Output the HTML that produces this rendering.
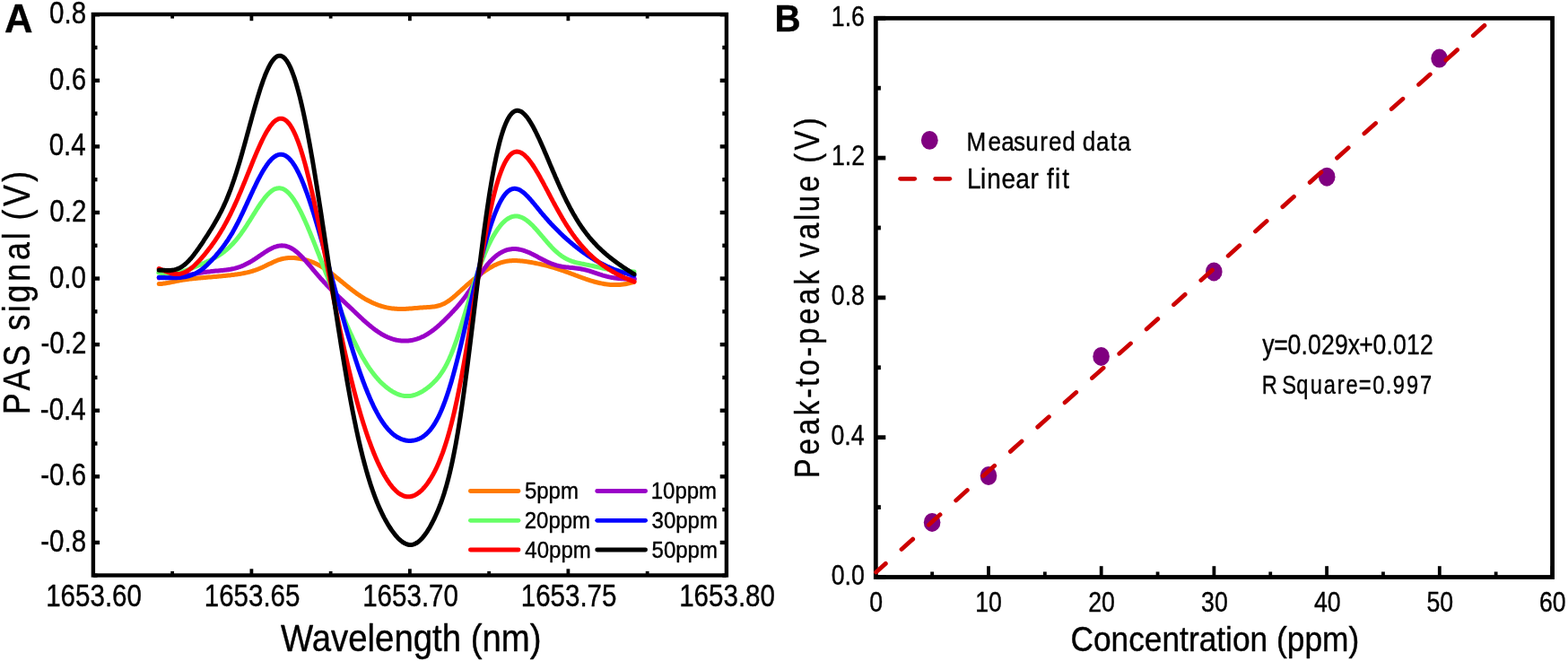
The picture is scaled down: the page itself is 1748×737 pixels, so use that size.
<!DOCTYPE html>
<html lang="en"><head><meta charset="utf-8"><title>PAS signal and linear fit</title>
<style>html,body{margin:0;padding:0;background:#fff;}body{width:1748px;height:737px;overflow:hidden;}svg{display:block;}text{font-family:"Liberation Sans",Arial,Helvetica,sans-serif;white-space:pre;}</style>
</head><body>
<svg role="img" aria-label="Figure: (A) PAS signal versus wavelength for 5 to 50 ppm; (B) peak-to-peak value versus concentration with linear fit" width="1748" height="737" viewBox="0 0 1748 737">
<rect x="0" y="0" width="1748" height="737" fill="#fff"/>
<g id="panelA">
<g fill="none" stroke-linecap="round" stroke-linejoin="round" stroke-width="5.0">
<path d="M177.2,316.6 L178.2,316.5 L179.2,316.4 L180.2,316.4 L181.2,316.3 L182.2,316.1 L183.2,316.0 L184.2,315.9 L185.2,315.7 L186.2,315.6 L187.2,315.4 L188.2,315.2 L189.2,315.0 L190.2,314.8 L191.2,314.6 L192.2,314.4 L193.2,314.2 L194.2,314.0 L195.2,313.8 L196.2,313.6 L197.2,313.4 L198.2,313.2 L199.2,313.0 L200.2,312.8 L201.2,312.6 L202.2,312.4 L203.2,312.3 L204.2,312.1 L205.2,312.0 L206.2,311.8 L207.2,311.7 L208.2,311.5 L209.2,311.4 L210.2,311.3 L211.2,311.1 L212.2,311.0 L213.2,310.9 L214.2,310.8 L215.2,310.7 L216.2,310.6 L217.2,310.5 L218.2,310.4 L219.2,310.3 L220.2,310.2 L221.2,310.1 L222.2,310.0 L223.2,309.9 L224.2,309.8 L225.2,309.8 L226.2,309.7 L227.2,309.6 L228.2,309.5 L229.2,309.4 L230.2,309.3 L231.2,309.2 L232.2,309.1 L233.2,309.1 L234.2,309.0 L235.2,308.9 L236.2,308.8 L237.2,308.7 L238.2,308.6 L239.2,308.5 L240.2,308.4 L241.2,308.4 L242.2,308.3 L243.2,308.2 L244.2,308.1 L245.2,308.0 L246.2,307.9 L247.2,307.8 L248.2,307.7 L249.2,307.6 L250.2,307.5 L251.2,307.4 L252.2,307.3 L253.2,307.2 L254.2,307.1 L255.2,307.0 L256.2,306.9 L257.2,306.8 L258.2,306.6 L259.2,306.5 L260.2,306.4 L261.2,306.3 L262.2,306.1 L263.2,306.0 L264.2,305.9 L265.2,305.7 L266.2,305.6 L267.2,305.4 L268.2,305.3 L269.2,305.1 L270.2,304.9 L271.2,304.7 L272.2,304.5 L273.2,304.3 L274.2,304.1 L275.2,303.9 L276.2,303.7 L277.2,303.4 L278.2,303.2 L279.2,302.9 L280.2,302.6 L281.2,302.3 L282.2,302.0 L283.2,301.7 L284.2,301.4 L285.2,301.0 L286.2,300.6 L287.2,300.3 L288.2,299.9 L289.2,299.5 L290.2,299.1 L291.2,298.6 L292.2,298.2 L293.2,297.7 L294.2,297.2 L295.2,296.8 L296.2,296.3 L297.2,295.8 L298.2,295.3 L299.2,294.8 L300.2,294.3 L301.2,293.9 L302.2,293.4 L303.2,292.9 L304.2,292.4 L305.2,292.0 L306.2,291.5 L307.2,291.1 L308.2,290.7 L309.2,290.3 L310.2,289.9 L311.2,289.6 L312.2,289.3 L313.2,289.0 L314.2,288.7 L315.2,288.5 L316.2,288.3 L317.2,288.1 L318.2,287.9 L319.2,287.8 L320.2,287.7 L321.2,287.6 L322.2,287.5 L323.2,287.5 L324.2,287.4 L325.2,287.5 L326.2,287.5 L327.2,287.5 L328.2,287.6 L329.2,287.7 L330.2,287.8 L331.2,287.9 L332.2,288.0 L333.2,288.2 L334.2,288.3 L335.2,288.5 L336.2,288.7 L337.2,288.9 L338.2,289.1 L339.2,289.4 L340.2,289.6 L341.2,289.9 L342.2,290.2 L343.2,290.5 L344.2,290.8 L345.2,291.1 L346.2,291.5 L347.2,291.8 L348.2,292.2 L349.2,292.6 L350.2,293.1 L351.2,293.5 L352.2,294.0 L353.2,294.5 L354.2,295.0 L355.2,295.5 L356.2,296.0 L357.2,296.6 L358.2,297.2 L359.2,297.8 L360.2,298.4 L361.2,299.0 L362.2,299.7 L363.2,300.4 L364.2,301.0 L365.2,301.7 L366.2,302.5 L367.2,303.2 L368.2,303.9 L369.2,304.7 L370.2,305.4 L371.2,306.2 L372.2,307.0 L373.2,307.8 L374.2,308.6 L375.2,309.4 L376.2,310.2 L377.2,311.0 L378.2,311.8 L379.2,312.7 L380.2,313.5 L381.2,314.3 L382.2,315.1 L383.2,315.9 L384.2,316.8 L385.2,317.6 L386.2,318.4 L387.2,319.2 L388.2,320.0 L389.2,320.8 L390.2,321.6 L391.2,322.4 L392.2,323.1 L393.2,323.9 L394.2,324.6 L395.2,325.4 L396.2,326.1 L397.2,326.9 L398.2,327.6 L399.2,328.3 L400.2,328.9 L401.2,329.6 L402.2,330.3 L403.2,330.9 L404.2,331.6 L405.2,332.2 L406.2,332.8 L407.2,333.4 L408.2,333.9 L409.2,334.5 L410.2,335.1 L411.2,335.6 L412.2,336.1 L413.2,336.6 L414.2,337.1 L415.2,337.5 L416.2,338.0 L417.2,338.4 L418.2,338.8 L419.2,339.2 L420.2,339.6 L421.2,340.0 L422.2,340.4 L423.2,340.7 L424.2,341.0 L425.2,341.3 L426.2,341.6 L427.2,341.9 L428.2,342.2 L429.2,342.4 L430.2,342.7 L431.2,342.9 L432.2,343.1 L433.2,343.3 L434.2,343.4 L435.2,343.6 L436.2,343.8 L437.2,343.9 L438.2,344.0 L439.2,344.1 L440.2,344.2 L441.2,344.3 L442.2,344.3 L443.2,344.4 L444.2,344.4 L445.2,344.5 L446.2,344.5 L447.2,344.5 L448.2,344.5 L449.2,344.5 L450.2,344.4 L451.2,344.4 L452.2,344.4 L453.2,344.3 L454.2,344.2 L455.2,344.2 L456.2,344.1 L457.2,344.0 L458.2,343.9 L459.2,343.9 L460.2,343.8 L461.2,343.7 L462.2,343.6 L463.2,343.5 L464.2,343.4 L465.2,343.4 L466.2,343.3 L467.2,343.2 L468.2,343.1 L469.2,343.0 L470.2,343.0 L471.2,342.9 L472.2,342.8 L473.2,342.8 L474.2,342.7 L475.2,342.7 L476.2,342.6 L477.2,342.5 L478.2,342.5 L479.2,342.4 L480.2,342.3 L481.2,342.2 L482.2,342.1 L483.2,342.0 L484.2,341.9 L485.2,341.7 L486.2,341.5 L487.2,341.3 L488.2,341.0 L489.2,340.8 L490.2,340.5 L491.2,340.1 L492.2,339.8 L493.2,339.3 L494.2,338.9 L495.2,338.4 L496.2,337.9 L497.2,337.3 L498.2,336.7 L499.2,336.1 L500.2,335.4 L501.2,334.7 L502.2,333.9 L503.2,333.2 L504.2,332.4 L505.2,331.6 L506.2,330.7 L507.2,329.9 L508.2,329.0 L509.2,328.1 L510.2,327.2 L511.2,326.3 L512.2,325.4 L513.2,324.5 L514.2,323.6 L515.2,322.7 L516.2,321.8 L517.2,320.9 L518.2,320.0 L519.2,319.1 L520.2,318.2 L521.2,317.3 L522.2,316.5 L523.2,315.6 L524.2,314.8 L525.2,313.9 L526.2,313.1 L527.2,312.3 L528.2,311.4 L529.2,310.6 L530.2,309.9 L531.2,309.1 L532.2,308.3 L533.2,307.5 L534.2,306.8 L535.2,306.0 L536.2,305.3 L537.2,304.5 L538.2,303.8 L539.2,303.1 L540.2,302.4 L541.2,301.7 L542.2,301.1 L543.2,300.4 L544.2,299.8 L545.2,299.2 L546.2,298.6 L547.2,298.0 L548.2,297.4 L549.2,296.9 L550.2,296.3 L551.2,295.8 L552.2,295.4 L553.2,294.9 L554.2,294.5 L555.2,294.0 L556.2,293.6 L557.2,293.3 L558.2,292.9 L559.2,292.6 L560.2,292.3 L561.2,292.1 L562.2,291.8 L563.2,291.6 L564.2,291.4 L565.2,291.2 L566.2,291.1 L567.2,290.9 L568.2,290.8 L569.2,290.7 L570.2,290.7 L571.2,290.6 L572.2,290.6 L573.2,290.6 L574.2,290.6 L575.2,290.6 L576.2,290.6 L577.2,290.7 L578.2,290.7 L579.2,290.8 L580.2,290.9 L581.2,291.0 L582.2,291.1 L583.2,291.2 L584.2,291.3 L585.2,291.4 L586.2,291.6 L587.2,291.7 L588.2,291.9 L589.2,292.0 L590.2,292.2 L591.2,292.4 L592.2,292.5 L593.2,292.7 L594.2,292.9 L595.2,293.1 L596.2,293.3 L597.2,293.5 L598.2,293.7 L599.2,293.9 L600.2,294.1 L601.2,294.3 L602.2,294.5 L603.2,294.7 L604.2,295.0 L605.2,295.2 L606.2,295.4 L607.2,295.7 L608.2,295.9 L609.2,296.2 L610.2,296.4 L611.2,296.7 L612.2,297.0 L613.2,297.2 L614.2,297.5 L615.2,297.8 L616.2,298.1 L617.2,298.4 L618.2,298.7 L619.2,299.0 L620.2,299.3 L621.2,299.6 L622.2,300.0 L623.2,300.3 L624.2,300.6 L625.2,301.0 L626.2,301.3 L627.2,301.6 L628.2,302.0 L629.2,302.4 L630.2,302.7 L631.2,303.1 L632.2,303.4 L633.2,303.8 L634.2,304.2 L635.2,304.5 L636.2,304.9 L637.2,305.3 L638.2,305.6 L639.2,306.0 L640.2,306.4 L641.2,306.8 L642.2,307.1 L643.2,307.5 L644.2,307.9 L645.2,308.3 L646.2,308.6 L647.2,309.0 L648.2,309.4 L649.2,309.7 L650.2,310.1 L651.2,310.4 L652.2,310.8 L653.2,311.1 L654.2,311.5 L655.2,311.8 L656.2,312.1 L657.2,312.5 L658.2,312.8 L659.2,313.1 L660.2,313.4 L661.2,313.7 L662.2,314.0 L663.2,314.3 L664.2,314.5 L665.2,314.8 L666.2,315.0 L667.2,315.3 L668.2,315.5 L669.2,315.7 L670.2,315.9 L671.2,316.1 L672.2,316.3 L673.2,316.5 L674.2,316.7 L675.2,316.8 L676.2,316.9 L677.2,317.1 L678.2,317.2 L679.2,317.3 L680.2,317.4 L681.2,317.4 L682.2,317.5 L683.2,317.6 L684.2,317.6 L685.2,317.6 L686.2,317.6 L687.2,317.6 L688.2,317.6 L689.2,317.5 L690.2,317.5 L691.2,317.4 L692.2,317.3 L693.2,317.2 L694.2,317.1 L695.2,317.0 L696.2,316.8 L697.2,316.7 L698.2,316.5 L699.2,316.3 L700.2,316.1 L701.2,315.9 L702.2,315.6 L703.2,315.4 L704.2,315.1 L705.2,314.8 L706.2,314.6 L707.0,314.3" stroke="#ff7a00"/>
<path d="M177.2,309.9 L178.2,309.8 L179.2,309.8 L180.2,309.8 L181.2,309.7 L182.2,309.7 L183.2,309.6 L184.2,309.6 L185.2,309.5 L186.2,309.4 L187.2,309.4 L188.2,309.3 L189.2,309.2 L190.2,309.1 L191.2,309.0 L192.2,308.9 L193.2,308.8 L194.2,308.7 L195.2,308.6 L196.2,308.5 L197.2,308.4 L198.2,308.3 L199.2,308.1 L200.2,308.0 L201.2,307.9 L202.2,307.7 L203.2,307.6 L204.2,307.4 L205.2,307.3 L206.2,307.1 L207.2,307.0 L208.2,306.8 L209.2,306.6 L210.2,306.5 L211.2,306.3 L212.2,306.1 L213.2,305.9 L214.2,305.8 L215.2,305.6 L216.2,305.4 L217.2,305.3 L218.2,305.1 L219.2,304.9 L220.2,304.8 L221.2,304.6 L222.2,304.4 L223.2,304.3 L224.2,304.1 L225.2,303.9 L226.2,303.8 L227.2,303.6 L228.2,303.5 L229.2,303.4 L230.2,303.2 L231.2,303.1 L232.2,303.0 L233.2,302.9 L234.2,302.8 L235.2,302.6 L236.2,302.5 L237.2,302.4 L238.2,302.3 L239.2,302.2 L240.2,302.1 L241.2,302.0 L242.2,301.9 L243.2,301.9 L244.2,301.8 L245.2,301.7 L246.2,301.6 L247.2,301.5 L248.2,301.4 L249.2,301.3 L250.2,301.2 L251.2,301.1 L252.2,300.9 L253.2,300.8 L254.2,300.7 L255.2,300.5 L256.2,300.4 L257.2,300.2 L258.2,300.0 L259.2,299.8 L260.2,299.6 L261.2,299.4 L262.2,299.1 L263.2,298.8 L264.2,298.6 L265.2,298.2 L266.2,297.9 L267.2,297.6 L268.2,297.2 L269.2,296.9 L270.2,296.4 L271.2,296.0 L272.2,295.6 L273.2,295.1 L274.2,294.6 L275.2,294.1 L276.2,293.6 L277.2,293.1 L278.2,292.5 L279.2,291.9 L280.2,291.3 L281.2,290.7 L282.2,290.1 L283.2,289.4 L284.2,288.8 L285.2,288.1 L286.2,287.5 L287.2,286.8 L288.2,286.1 L289.2,285.4 L290.2,284.7 L291.2,284.0 L292.2,283.4 L293.2,282.7 L294.2,282.0 L295.2,281.3 L296.2,280.7 L297.2,280.1 L298.2,279.4 L299.2,278.8 L300.2,278.3 L301.2,277.7 L302.2,277.2 L303.2,276.7 L304.2,276.2 L305.2,275.8 L306.2,275.4 L307.2,275.1 L308.2,274.8 L309.2,274.5 L310.2,274.3 L311.2,274.1 L312.2,273.9 L313.2,273.9 L314.2,273.8 L315.2,273.9 L316.2,273.9 L317.2,274.1 L318.2,274.2 L319.2,274.5 L320.2,274.8 L321.2,275.1 L322.2,275.5 L323.2,275.9 L324.2,276.4 L325.2,277.0 L326.2,277.6 L327.2,278.2 L328.2,278.9 L329.2,279.7 L330.2,280.5 L331.2,281.3 L332.2,282.2 L333.2,283.1 L334.2,284.0 L335.2,285.0 L336.2,286.0 L337.2,287.0 L338.2,288.1 L339.2,289.2 L340.2,290.3 L341.2,291.4 L342.2,292.6 L343.2,293.7 L344.2,294.9 L345.2,296.0 L346.2,297.2 L347.2,298.4 L348.2,299.6 L349.2,300.8 L350.2,302.0 L351.2,303.1 L352.2,304.3 L353.2,305.5 L354.2,306.6 L355.2,307.8 L356.2,308.9 L357.2,310.1 L358.2,311.2 L359.2,312.3 L360.2,313.4 L361.2,314.5 L362.2,315.6 L363.2,316.6 L364.2,317.7 L365.2,318.7 L366.2,319.7 L367.2,320.8 L368.2,321.8 L369.2,322.8 L370.2,323.7 L371.2,324.7 L372.2,325.7 L373.2,326.6 L374.2,327.6 L375.2,328.6 L376.2,329.5 L377.2,330.4 L378.2,331.4 L379.2,332.3 L380.2,333.3 L381.2,334.2 L382.2,335.2 L383.2,336.1 L384.2,337.0 L385.2,338.0 L386.2,338.9 L387.2,339.9 L388.2,340.8 L389.2,341.8 L390.2,342.7 L391.2,343.7 L392.2,344.6 L393.2,345.6 L394.2,346.5 L395.2,347.5 L396.2,348.4 L397.2,349.4 L398.2,350.3 L399.2,351.3 L400.2,352.2 L401.2,353.2 L402.2,354.1 L403.2,355.0 L404.2,355.9 L405.2,356.9 L406.2,357.8 L407.2,358.7 L408.2,359.6 L409.2,360.4 L410.2,361.3 L411.2,362.1 L412.2,363.0 L413.2,363.8 L414.2,364.6 L415.2,365.4 L416.2,366.2 L417.2,366.9 L418.2,367.7 L419.2,368.4 L420.2,369.1 L421.2,369.8 L422.2,370.5 L423.2,371.1 L424.2,371.7 L425.2,372.4 L426.2,372.9 L427.2,373.5 L428.2,374.0 L429.2,374.6 L430.2,375.0 L431.2,375.5 L432.2,376.0 L433.2,376.4 L434.2,376.8 L435.2,377.2 L436.2,377.5 L437.2,377.9 L438.2,378.2 L439.2,378.5 L440.2,378.7 L441.2,379.0 L442.2,379.2 L443.2,379.4 L444.2,379.6 L445.2,379.7 L446.2,379.8 L447.2,379.9 L448.2,380.0 L449.2,380.1 L450.2,380.1 L451.2,380.1 L452.2,380.1 L453.2,380.1 L454.2,380.0 L455.2,379.9 L456.2,379.8 L457.2,379.7 L458.2,379.5 L459.2,379.4 L460.2,379.2 L461.2,378.9 L462.2,378.7 L463.2,378.4 L464.2,378.1 L465.2,377.8 L466.2,377.4 L467.2,377.1 L468.2,376.7 L469.2,376.3 L470.2,375.8 L471.2,375.4 L472.2,374.9 L473.2,374.4 L474.2,373.8 L475.2,373.2 L476.2,372.7 L477.2,372.0 L478.2,371.4 L479.2,370.7 L480.2,370.1 L481.2,369.3 L482.2,368.6 L483.2,367.9 L484.2,367.1 L485.2,366.3 L486.2,365.5 L487.2,364.6 L488.2,363.8 L489.2,362.9 L490.2,362.0 L491.2,361.1 L492.2,360.1 L493.2,359.2 L494.2,358.2 L495.2,357.3 L496.2,356.3 L497.2,355.3 L498.2,354.3 L499.2,353.3 L500.2,352.2 L501.2,351.2 L502.2,350.2 L503.2,349.1 L504.2,348.1 L505.2,347.0 L506.2,345.9 L507.2,344.8 L508.2,343.7 L509.2,342.6 L510.2,341.4 L511.2,340.3 L512.2,339.1 L513.2,337.9 L514.2,336.6 L515.2,335.4 L516.2,334.1 L517.2,332.8 L518.2,331.4 L519.2,330.1 L520.2,328.7 L521.2,327.2 L522.2,325.8 L523.2,324.3 L524.2,322.8 L525.2,321.3 L526.2,319.8 L527.2,318.3 L528.2,316.7 L529.2,315.2 L530.2,313.6 L531.2,312.1 L532.2,310.6 L533.2,309.0 L534.2,307.5 L535.2,306.1 L536.2,304.6 L537.2,303.1 L538.2,301.7 L539.2,300.4 L540.2,299.0 L541.2,297.7 L542.2,296.4 L543.2,295.2 L544.2,294.0 L545.2,292.9 L546.2,291.8 L547.2,290.7 L548.2,289.7 L549.2,288.7 L550.2,287.8 L551.2,286.9 L552.2,286.0 L553.2,285.2 L554.2,284.4 L555.2,283.7 L556.2,283.0 L557.2,282.4 L558.2,281.8 L559.2,281.2 L560.2,280.7 L561.2,280.2 L562.2,279.8 L563.2,279.4 L564.2,279.0 L565.2,278.7 L566.2,278.4 L567.2,278.2 L568.2,278.0 L569.2,277.9 L570.2,277.7 L571.2,277.6 L572.2,277.6 L573.2,277.6 L574.2,277.6 L575.2,277.6 L576.2,277.7 L577.2,277.8 L578.2,278.0 L579.2,278.2 L580.2,278.4 L581.2,278.6 L582.2,278.9 L583.2,279.2 L584.2,279.5 L585.2,279.8 L586.2,280.2 L587.2,280.6 L588.2,281.0 L589.2,281.4 L590.2,281.8 L591.2,282.3 L592.2,282.8 L593.2,283.2 L594.2,283.7 L595.2,284.2 L596.2,284.8 L597.2,285.3 L598.2,285.8 L599.2,286.3 L600.2,286.9 L601.2,287.4 L602.2,287.9 L603.2,288.4 L604.2,289.0 L605.2,289.5 L606.2,290.0 L607.2,290.5 L608.2,291.0 L609.2,291.5 L610.2,291.9 L611.2,292.4 L612.2,292.9 L613.2,293.3 L614.2,293.7 L615.2,294.1 L616.2,294.5 L617.2,294.8 L618.2,295.1 L619.2,295.5 L620.2,295.8 L621.2,296.1 L622.2,296.3 L623.2,296.6 L624.2,296.8 L625.2,297.0 L626.2,297.2 L627.2,297.4 L628.2,297.5 L629.2,297.7 L630.2,297.8 L631.2,297.9 L632.2,298.0 L633.2,298.1 L634.2,298.2 L635.2,298.4 L636.2,298.4 L637.2,298.5 L638.2,298.6 L639.2,298.7 L640.2,298.8 L641.2,298.9 L642.2,299.1 L643.2,299.2 L644.2,299.3 L645.2,299.5 L646.2,299.6 L647.2,299.8 L648.2,300.0 L649.2,300.2 L650.2,300.4 L651.2,300.6 L652.2,300.8 L653.2,301.1 L654.2,301.3 L655.2,301.6 L656.2,301.9 L657.2,302.2 L658.2,302.5 L659.2,302.8 L660.2,303.1 L661.2,303.5 L662.2,303.8 L663.2,304.1 L664.2,304.5 L665.2,304.8 L666.2,305.1 L667.2,305.5 L668.2,305.8 L669.2,306.1 L670.2,306.4 L671.2,306.8 L672.2,307.1 L673.2,307.4 L674.2,307.6 L675.2,307.9 L676.2,308.2 L677.2,308.4 L678.2,308.7 L679.2,308.9 L680.2,309.1 L681.2,309.3 L682.2,309.5 L683.2,309.6 L684.2,309.8 L685.2,310.0 L686.2,310.1 L687.2,310.2 L688.2,310.3 L689.2,310.4 L690.2,310.5 L691.2,310.6 L692.2,310.7 L693.2,310.7 L694.2,310.8 L695.2,310.8 L696.2,310.9 L697.2,310.9 L698.2,310.9 L699.2,310.9 L700.2,310.9 L701.2,310.9 L702.2,310.9 L703.2,310.9 L704.2,310.9 L705.2,310.9 L706.2,310.9 L707.2,310.9 L707.4,310.9" stroke="#9a00c8"/>
<path d="M176.8,303.9 L177.8,304.1 L178.8,304.3 L179.8,304.5 L180.8,304.7 L181.8,304.8 L182.8,304.9 L183.8,305.0 L184.8,305.1 L185.8,305.1 L186.8,305.1 L187.8,305.1 L188.8,305.1 L189.8,305.1 L190.8,305.0 L191.8,305.0 L192.8,304.9 L193.8,304.8 L194.8,304.6 L195.8,304.4 L196.8,304.3 L197.8,304.1 L198.8,303.9 L199.8,303.6 L200.8,303.4 L201.8,303.1 L202.8,302.9 L203.8,302.6 L204.8,302.3 L205.8,301.9 L206.8,301.6 L207.8,301.3 L208.8,300.9 L209.8,300.6 L210.8,300.2 L211.8,299.8 L212.8,299.5 L213.8,299.1 L214.8,298.7 L215.8,298.3 L216.8,297.9 L217.8,297.5 L218.8,297.1 L219.8,296.6 L220.8,296.2 L221.8,295.8 L222.8,295.4 L223.8,294.9 L224.8,294.5 L225.8,294.1 L226.8,293.6 L227.8,293.2 L228.8,292.7 L229.8,292.3 L230.8,291.8 L231.8,291.3 L232.8,290.9 L233.8,290.4 L234.8,289.9 L235.8,289.4 L236.8,288.9 L237.8,288.3 L238.8,287.8 L239.8,287.2 L240.8,286.7 L241.8,286.1 L242.8,285.5 L243.8,284.9 L244.8,284.2 L245.8,283.6 L246.8,282.9 L247.8,282.2 L248.8,281.4 L249.8,280.7 L250.8,279.9 L251.8,279.1 L252.8,278.2 L253.8,277.4 L254.8,276.5 L255.8,275.6 L256.8,274.6 L257.8,273.6 L258.8,272.6 L259.8,271.5 L260.8,270.4 L261.8,269.2 L262.8,268.1 L263.8,266.9 L264.8,265.6 L265.8,264.4 L266.8,263.1 L267.8,261.7 L268.8,260.4 L269.8,258.9 L270.8,257.5 L271.8,256.1 L272.8,254.6 L273.8,253.1 L274.8,251.6 L275.8,250.0 L276.8,248.4 L277.8,246.9 L278.8,245.3 L279.8,243.7 L280.8,242.1 L281.8,240.5 L282.8,238.9 L283.8,237.3 L284.8,235.7 L285.8,234.1 L286.8,232.5 L287.8,231.0 L288.8,229.5 L289.8,228.0 L290.8,226.5 L291.8,225.1 L292.8,223.7 L293.8,222.4 L294.8,221.1 L295.8,219.8 L296.8,218.7 L297.8,217.5 L298.8,216.5 L299.8,215.5 L300.8,214.6 L301.8,213.7 L302.8,212.9 L303.8,212.2 L304.8,211.6 L305.8,211.1 L306.8,210.6 L307.8,210.3 L308.8,210.0 L309.8,209.9 L310.8,209.8 L311.8,209.8 L312.8,209.9 L313.8,210.1 L314.8,210.4 L315.8,210.8 L316.8,211.3 L317.8,211.9 L318.8,212.6 L319.8,213.4 L320.8,214.3 L321.8,215.3 L322.8,216.3 L323.8,217.5 L324.8,218.7 L325.8,220.0 L326.8,221.4 L327.8,222.9 L328.8,224.5 L329.8,226.1 L330.8,227.8 L331.8,229.6 L332.8,231.4 L333.8,233.3 L334.8,235.2 L335.8,237.2 L336.8,239.3 L337.8,241.4 L338.8,243.6 L339.8,245.8 L340.8,248.0 L341.8,250.3 L342.8,252.6 L343.8,255.0 L344.8,257.4 L345.8,259.8 L346.8,262.2 L347.8,264.7 L348.8,267.1 L349.8,269.6 L350.8,272.1 L351.8,274.7 L352.8,277.2 L353.8,279.8 L354.8,282.3 L355.8,284.9 L356.8,287.5 L357.8,290.0 L358.8,292.6 L359.8,295.2 L360.8,297.8 L361.8,300.4 L362.8,303.0 L363.8,305.6 L364.8,308.1 L365.8,310.7 L366.8,313.3 L367.8,315.9 L368.8,318.4 L369.8,321.0 L370.8,323.5 L371.8,326.1 L372.8,328.6 L373.8,331.1 L374.8,333.6 L375.8,336.1 L376.8,338.6 L377.8,341.1 L378.8,343.6 L379.8,346.0 L380.8,348.5 L381.8,350.9 L382.8,353.3 L383.8,355.7 L384.8,358.0 L385.8,360.4 L386.8,362.7 L387.8,365.0 L388.8,367.2 L389.8,369.5 L390.8,371.7 L391.8,373.9 L392.8,376.1 L393.8,378.2 L394.8,380.3 L395.8,382.4 L396.8,384.4 L397.8,386.4 L398.8,388.4 L399.8,390.3 L400.8,392.2 L401.8,394.1 L402.8,395.9 L403.8,397.7 L404.8,399.4 L405.8,401.1 L406.8,402.8 L407.8,404.4 L408.8,406.0 L409.8,407.6 L410.8,409.1 L411.8,410.6 L412.8,412.0 L413.8,413.4 L414.8,414.8 L415.8,416.1 L416.8,417.4 L417.8,418.6 L418.8,419.9 L419.8,421.0 L420.8,422.2 L421.8,423.3 L422.8,424.4 L423.8,425.4 L424.8,426.4 L425.8,427.4 L426.8,428.3 L427.8,429.2 L428.8,430.1 L429.8,431.0 L430.8,431.8 L431.8,432.6 L432.8,433.3 L433.8,434.1 L434.8,434.8 L435.8,435.4 L436.8,436.1 L437.8,436.7 L438.8,437.2 L439.8,437.8 L440.8,438.3 L441.8,438.8 L442.8,439.2 L443.8,439.6 L444.8,440.0 L445.8,440.3 L446.8,440.6 L447.8,440.9 L448.8,441.1 L449.8,441.3 L450.8,441.4 L451.8,441.5 L452.8,441.6 L453.8,441.6 L454.8,441.6 L455.8,441.6 L456.8,441.5 L457.8,441.4 L458.8,441.2 L459.8,441.0 L460.8,440.7 L461.8,440.5 L462.8,440.1 L463.8,439.8 L464.8,439.4 L465.8,439.0 L466.8,438.5 L467.8,438.0 L468.8,437.5 L469.8,436.9 L470.8,436.4 L471.8,435.8 L472.8,435.1 L473.8,434.4 L474.8,433.8 L475.8,433.0 L476.8,432.3 L477.8,431.5 L478.8,430.7 L479.8,429.8 L480.8,428.9 L481.8,428.0 L482.8,427.1 L483.8,426.1 L484.8,425.1 L485.8,424.0 L486.8,422.9 L487.8,421.7 L488.8,420.5 L489.8,419.2 L490.8,417.8 L491.8,416.4 L492.8,414.9 L493.8,413.4 L494.8,411.7 L495.8,410.0 L496.8,408.2 L497.8,406.3 L498.8,404.3 L499.8,402.2 L500.8,400.1 L501.8,397.8 L502.8,395.5 L503.8,393.0 L504.8,390.5 L505.8,387.9 L506.8,385.2 L507.8,382.4 L508.8,379.6 L509.8,376.6 L510.8,373.6 L511.8,370.6 L512.8,367.4 L513.8,364.3 L514.8,361.0 L515.8,357.8 L516.8,354.5 L517.8,351.2 L518.8,347.9 L519.8,344.5 L520.8,341.2 L521.8,337.9 L522.8,334.5 L523.8,331.2 L524.8,327.9 L525.8,324.7 L526.8,321.5 L527.8,318.3 L528.8,315.2 L529.8,312.1 L530.8,309.1 L531.8,306.1 L532.8,303.1 L533.8,300.3 L534.8,297.5 L535.8,294.8 L536.8,292.1 L537.8,289.5 L538.8,287.0 L539.8,284.5 L540.8,282.1 L541.8,279.8 L542.8,277.5 L543.8,275.3 L544.8,273.2 L545.8,271.1 L546.8,269.1 L547.8,267.2 L548.8,265.3 L549.8,263.6 L550.8,261.8 L551.8,260.2 L552.8,258.6 L553.8,257.1 L554.8,255.6 L555.8,254.2 L556.8,252.9 L557.8,251.6 L558.8,250.4 L559.8,249.3 L560.8,248.3 L561.8,247.3 L562.8,246.4 L563.8,245.5 L564.8,244.8 L565.8,244.1 L566.8,243.4 L567.8,242.9 L568.8,242.4 L569.8,242.0 L570.8,241.7 L571.8,241.4 L572.8,241.2 L573.8,241.1 L574.8,241.0 L575.8,241.0 L576.8,241.1 L577.8,241.2 L578.8,241.5 L579.8,241.8 L580.8,242.1 L581.8,242.5 L582.8,243.0 L583.8,243.5 L584.8,244.1 L585.8,244.8 L586.8,245.4 L587.8,246.2 L588.8,247.0 L589.8,247.8 L590.8,248.7 L591.8,249.7 L592.8,250.6 L593.8,251.6 L594.8,252.6 L595.8,253.7 L596.8,254.8 L597.8,255.9 L598.8,257.0 L599.8,258.1 L600.8,259.3 L601.8,260.5 L602.8,261.6 L603.8,262.8 L604.8,264.0 L605.8,265.2 L606.8,266.4 L607.8,267.5 L608.8,268.7 L609.8,269.9 L610.8,271.0 L611.8,272.1 L612.8,273.2 L613.8,274.3 L614.8,275.4 L615.8,276.4 L616.8,277.4 L617.8,278.4 L618.8,279.4 L619.8,280.3 L620.8,281.2 L621.8,282.1 L622.8,282.9 L623.8,283.7 L624.8,284.4 L625.8,285.2 L626.8,285.9 L627.8,286.5 L628.8,287.2 L629.8,287.8 L630.8,288.3 L631.8,288.9 L632.8,289.3 L633.8,289.8 L634.8,290.2 L635.8,290.6 L636.8,291.0 L637.8,291.4 L638.8,291.7 L639.8,292.0 L640.8,292.3 L641.8,292.6 L642.8,292.8 L643.8,293.1 L644.8,293.3 L645.8,293.5 L646.8,293.7 L647.8,293.9 L648.8,294.1 L649.8,294.3 L650.8,294.5 L651.8,294.7 L652.8,294.9 L653.8,295.1 L654.8,295.3 L655.8,295.4 L656.8,295.7 L657.8,295.9 L658.8,296.1 L659.8,296.3 L660.8,296.5 L661.8,296.7 L662.8,297.0 L663.8,297.2 L664.8,297.4 L665.8,297.7 L666.8,297.9 L667.8,298.1 L668.8,298.4 L669.8,298.6 L670.8,298.8 L671.8,299.0 L672.8,299.3 L673.8,299.5 L674.8,299.7 L675.8,299.9 L676.8,300.1 L677.8,300.3 L678.8,300.5 L679.8,300.6 L680.8,300.8 L681.8,300.9 L682.8,301.1 L683.8,301.2 L684.8,301.4 L685.8,301.5 L686.8,301.6 L687.8,301.7 L688.8,301.8 L689.8,301.9 L690.8,302.0 L691.8,302.1 L692.8,302.2 L693.8,302.3 L694.8,302.3 L695.8,302.4 L696.8,302.4 L697.8,302.5 L698.8,302.6 L699.8,302.6 L700.8,302.7 L701.8,302.7 L702.8,302.8 L703.8,302.8 L704.8,302.8 L705.8,302.9 L706.8,302.9 L707.0,302.9" stroke="#66ff66"/>
<path d="M177.2,309.3 L178.2,309.4 L179.2,309.4 L180.2,309.5 L181.2,309.5 L182.2,309.6 L183.2,309.6 L184.2,309.7 L185.2,309.7 L186.2,309.7 L187.2,309.8 L188.2,309.8 L189.2,309.8 L190.2,309.8 L191.2,309.8 L192.2,309.8 L193.2,309.8 L194.2,309.8 L195.2,309.8 L196.2,309.7 L197.2,309.7 L198.2,309.6 L199.2,309.5 L200.2,309.5 L201.2,309.4 L202.2,309.3 L203.2,309.1 L204.2,309.0 L205.2,308.8 L206.2,308.7 L207.2,308.5 L208.2,308.2 L209.2,308.0 L210.2,307.8 L211.2,307.5 L212.2,307.2 L213.2,306.8 L214.2,306.5 L215.2,306.1 L216.2,305.6 L217.2,305.2 L218.2,304.7 L219.2,304.2 L220.2,303.6 L221.2,303.0 L222.2,302.4 L223.2,301.7 L224.2,301.0 L225.2,300.3 L226.2,299.5 L227.2,298.7 L228.2,297.8 L229.2,296.9 L230.2,296.0 L231.2,295.1 L232.2,294.1 L233.2,293.1 L234.2,292.1 L235.2,291.1 L236.2,290.0 L237.2,288.9 L238.2,287.8 L239.2,286.7 L240.2,285.6 L241.2,284.4 L242.2,283.2 L243.2,282.0 L244.2,280.8 L245.2,279.6 L246.2,278.3 L247.2,277.1 L248.2,275.8 L249.2,274.4 L250.2,273.1 L251.2,271.7 L252.2,270.2 L253.2,268.8 L254.2,267.3 L255.2,265.7 L256.2,264.2 L257.2,262.5 L258.2,260.9 L259.2,259.2 L260.2,257.4 L261.2,255.6 L262.2,253.8 L263.2,251.9 L264.2,250.0 L265.2,248.1 L266.2,246.1 L267.2,244.1 L268.2,242.0 L269.2,239.9 L270.2,237.9 L271.2,235.7 L272.2,233.6 L273.2,231.4 L274.2,229.3 L275.2,227.1 L276.2,224.9 L277.2,222.8 L278.2,220.6 L279.2,218.4 L280.2,216.2 L281.2,214.1 L282.2,212.0 L283.2,209.8 L284.2,207.8 L285.2,205.7 L286.2,203.7 L287.2,201.7 L288.2,199.7 L289.2,197.8 L290.2,195.9 L291.2,194.1 L292.2,192.3 L293.2,190.6 L294.2,188.9 L295.2,187.3 L296.2,185.8 L297.2,184.3 L298.2,182.9 L299.2,181.6 L300.2,180.3 L301.2,179.2 L302.2,178.1 L303.2,177.1 L304.2,176.2 L305.2,175.3 L306.2,174.6 L307.2,174.0 L308.2,173.4 L309.2,173.0 L310.2,172.6 L311.2,172.4 L312.2,172.2 L313.2,172.2 L314.2,172.3 L315.2,172.4 L316.2,172.7 L317.2,173.1 L318.2,173.6 L319.2,174.2 L320.2,174.9 L321.2,175.7 L322.2,176.6 L323.2,177.7 L324.2,178.8 L325.2,180.0 L326.2,181.3 L327.2,182.8 L328.2,184.3 L329.2,186.0 L330.2,187.7 L331.2,189.6 L332.2,191.5 L333.2,193.5 L334.2,195.6 L335.2,197.8 L336.2,200.1 L337.2,202.5 L338.2,204.9 L339.2,207.5 L340.2,210.1 L341.2,212.8 L342.2,215.5 L343.2,218.3 L344.2,221.2 L345.2,224.2 L346.2,227.2 L347.2,230.3 L348.2,233.4 L349.2,236.6 L350.2,239.8 L351.2,243.1 L352.2,246.4 L353.2,249.8 L354.2,253.2 L355.2,256.6 L356.2,260.1 L357.2,263.6 L358.2,267.1 L359.2,270.7 L360.2,274.2 L361.2,277.8 L362.2,281.4 L363.2,285.1 L364.2,288.7 L365.2,292.3 L366.2,296.0 L367.2,299.7 L368.2,303.3 L369.2,307.0 L370.2,310.6 L371.2,314.3 L372.2,318.0 L373.2,321.6 L374.2,325.3 L375.2,328.9 L376.2,332.5 L377.2,336.1 L378.2,339.7 L379.2,343.3 L380.2,346.8 L381.2,350.4 L382.2,353.9 L383.2,357.4 L384.2,360.9 L385.2,364.3 L386.2,367.7 L387.2,371.1 L388.2,374.5 L389.2,377.8 L390.2,381.1 L391.2,384.4 L392.2,387.6 L393.2,390.8 L394.2,394.0 L395.2,397.1 L396.2,400.2 L397.2,403.2 L398.2,406.2 L399.2,409.2 L400.2,412.1 L401.2,415.0 L402.2,417.8 L403.2,420.6 L404.2,423.4 L405.2,426.1 L406.2,428.7 L407.2,431.3 L408.2,433.8 L409.2,436.3 L410.2,438.8 L411.2,441.1 L412.2,443.5 L413.2,445.8 L414.2,448.0 L415.2,450.1 L416.2,452.3 L417.2,454.3 L418.2,456.3 L419.2,458.2 L420.2,460.1 L421.2,461.9 L422.2,463.7 L423.2,465.4 L424.2,467.1 L425.2,468.6 L426.2,470.2 L427.2,471.6 L428.2,473.1 L429.2,474.4 L430.2,475.7 L431.2,476.9 L432.2,478.1 L433.2,479.2 L434.2,480.3 L435.2,481.3 L436.2,482.3 L437.2,483.2 L438.2,484.1 L439.2,484.9 L440.2,485.6 L441.2,486.3 L442.2,487.0 L443.2,487.6 L444.2,488.1 L445.2,488.6 L446.2,489.1 L447.2,489.5 L448.2,489.9 L449.2,490.2 L450.2,490.5 L451.2,490.8 L452.2,491.0 L453.2,491.2 L454.2,491.3 L455.2,491.4 L456.2,491.4 L457.2,491.4 L458.2,491.4 L459.2,491.3 L460.2,491.2 L461.2,491.1 L462.2,490.9 L463.2,490.6 L464.2,490.4 L465.2,490.0 L466.2,489.6 L467.2,489.2 L468.2,488.8 L469.2,488.2 L470.2,487.7 L471.2,487.1 L472.2,486.4 L473.2,485.6 L474.2,484.8 L475.2,484.0 L476.2,483.0 L477.2,482.0 L478.2,481.0 L479.2,479.8 L480.2,478.6 L481.2,477.3 L482.2,475.9 L483.2,474.5 L484.2,472.9 L485.2,471.3 L486.2,469.6 L487.2,467.7 L488.2,465.8 L489.2,463.8 L490.2,461.7 L491.2,459.5 L492.2,457.2 L493.2,454.8 L494.2,452.3 L495.2,449.7 L496.2,447.0 L497.2,444.2 L498.2,441.3 L499.2,438.3 L500.2,435.2 L501.2,432.0 L502.2,428.7 L503.2,425.4 L504.2,421.9 L505.2,418.4 L506.2,414.7 L507.2,411.0 L508.2,407.2 L509.2,403.4 L510.2,399.4 L511.2,395.4 L512.2,391.4 L513.2,387.3 L514.2,383.1 L515.2,378.9 L516.2,374.6 L517.2,370.4 L518.2,366.1 L519.2,361.7 L520.2,357.4 L521.2,353.0 L522.2,348.7 L523.2,344.3 L524.2,339.9 L525.2,335.6 L526.2,331.2 L527.2,326.9 L528.2,322.6 L529.2,318.3 L530.2,314.1 L531.2,309.9 L532.2,305.7 L533.2,301.6 L534.2,297.5 L535.2,293.5 L536.2,289.6 L537.2,285.7 L538.2,281.8 L539.2,278.1 L540.2,274.4 L541.2,270.8 L542.2,267.3 L543.2,263.9 L544.2,260.5 L545.2,257.2 L546.2,254.1 L547.2,251.0 L548.2,248.0 L549.2,245.1 L550.2,242.3 L551.2,239.7 L552.2,237.1 L553.2,234.7 L554.2,232.3 L555.2,230.1 L556.2,228.0 L557.2,226.0 L558.2,224.1 L559.2,222.3 L560.2,220.7 L561.2,219.2 L562.2,217.8 L563.2,216.5 L564.2,215.4 L565.2,214.3 L566.2,213.4 L567.2,212.6 L568.2,212.0 L569.2,211.4 L570.2,211.0 L571.2,210.7 L572.2,210.4 L573.2,210.3 L574.2,210.3 L575.2,210.4 L576.2,210.7 L577.2,210.9 L578.2,211.3 L579.2,211.8 L580.2,212.3 L581.2,213.0 L582.2,213.7 L583.2,214.4 L584.2,215.2 L585.2,216.1 L586.2,217.1 L587.2,218.0 L588.2,219.1 L589.2,220.1 L590.2,221.2 L591.2,222.3 L592.2,223.5 L593.2,224.7 L594.2,225.8 L595.2,227.0 L596.2,228.2 L597.2,229.5 L598.2,230.7 L599.2,231.9 L600.2,233.1 L601.2,234.3 L602.2,235.6 L603.2,236.8 L604.2,238.0 L605.2,239.2 L606.2,240.3 L607.2,241.5 L608.2,242.7 L609.2,243.8 L610.2,244.9 L611.2,246.1 L612.2,247.2 L613.2,248.3 L614.2,249.4 L615.2,250.4 L616.2,251.5 L617.2,252.6 L618.2,253.6 L619.2,254.6 L620.2,255.6 L621.2,256.6 L622.2,257.6 L623.2,258.6 L624.2,259.6 L625.2,260.5 L626.2,261.5 L627.2,262.4 L628.2,263.4 L629.2,264.3 L630.2,265.2 L631.2,266.1 L632.2,267.0 L633.2,267.8 L634.2,268.7 L635.2,269.6 L636.2,270.4 L637.2,271.3 L638.2,272.1 L639.2,272.9 L640.2,273.8 L641.2,274.6 L642.2,275.4 L643.2,276.1 L644.2,276.9 L645.2,277.7 L646.2,278.4 L647.2,279.2 L648.2,279.9 L649.2,280.7 L650.2,281.4 L651.2,282.1 L652.2,282.8 L653.2,283.5 L654.2,284.2 L655.2,284.9 L656.2,285.5 L657.2,286.2 L658.2,286.8 L659.2,287.4 L660.2,288.1 L661.2,288.7 L662.2,289.3 L663.2,289.9 L664.2,290.5 L665.2,291.0 L666.2,291.6 L667.2,292.2 L668.2,292.7 L669.2,293.2 L670.2,293.8 L671.2,294.3 L672.2,294.8 L673.2,295.3 L674.2,295.8 L675.2,296.3 L676.2,296.7 L677.2,297.2 L678.2,297.6 L679.2,298.1 L680.2,298.5 L681.2,298.9 L682.2,299.4 L683.2,299.8 L684.2,300.2 L685.2,300.6 L686.2,300.9 L687.2,301.3 L688.2,301.7 L689.2,302.0 L690.2,302.4 L691.2,302.7 L692.2,303.1 L693.2,303.4 L694.2,303.7 L695.2,304.0 L696.2,304.3 L697.2,304.6 L698.2,304.9 L699.2,305.2 L700.2,305.5 L701.2,305.7 L702.2,306.0 L703.2,306.3 L704.2,306.5 L705.2,306.8 L706.2,307.0 L707.0,307.2" stroke="#0000ff"/>
<path d="M177.2,299.5 L178.2,299.9 L179.2,300.3 L180.2,300.7 L181.2,301.2 L182.2,301.6 L183.2,302.0 L184.2,302.4 L185.2,302.8 L186.2,303.2 L187.2,303.5 L188.2,303.9 L189.2,304.2 L190.2,304.5 L191.2,304.8 L192.2,305.0 L193.2,305.2 L194.2,305.4 L195.2,305.5 L196.2,305.5 L197.2,305.6 L198.2,305.6 L199.2,305.5 L200.2,305.4 L201.2,305.2 L202.2,304.9 L203.2,304.7 L204.2,304.3 L205.2,303.9 L206.2,303.5 L207.2,303.0 L208.2,302.5 L209.2,301.9 L210.2,301.2 L211.2,300.6 L212.2,299.8 L213.2,299.1 L214.2,298.2 L215.2,297.4 L216.2,296.5 L217.2,295.6 L218.2,294.6 L219.2,293.6 L220.2,292.6 L221.2,291.6 L222.2,290.5 L223.2,289.4 L224.2,288.3 L225.2,287.1 L226.2,286.0 L227.2,284.8 L228.2,283.6 L229.2,282.4 L230.2,281.1 L231.2,279.9 L232.2,278.6 L233.2,277.3 L234.2,276.0 L235.2,274.7 L236.2,273.3 L237.2,271.9 L238.2,270.5 L239.2,269.1 L240.2,267.6 L241.2,266.1 L242.2,264.6 L243.2,263.1 L244.2,261.5 L245.2,259.9 L246.2,258.3 L247.2,256.6 L248.2,254.9 L249.2,253.2 L250.2,251.4 L251.2,249.6 L252.2,247.8 L253.2,245.9 L254.2,244.0 L255.2,242.1 L256.2,240.1 L257.2,238.1 L258.2,236.0 L259.2,233.9 L260.2,231.8 L261.2,229.6 L262.2,227.4 L263.2,225.2 L264.2,222.9 L265.2,220.7 L266.2,218.3 L267.2,216.0 L268.2,213.7 L269.2,211.3 L270.2,208.9 L271.2,206.4 L272.2,204.0 L273.2,201.6 L274.2,199.1 L275.2,196.6 L276.2,194.1 L277.2,191.7 L278.2,189.2 L279.2,186.7 L280.2,184.2 L281.2,181.8 L282.2,179.3 L283.2,176.9 L284.2,174.5 L285.2,172.1 L286.2,169.8 L287.2,167.5 L288.2,165.2 L289.2,163.0 L290.2,160.8 L291.2,158.6 L292.2,156.5 L293.2,154.5 L294.2,152.5 L295.2,150.6 L296.2,148.8 L297.2,147.0 L298.2,145.4 L299.2,143.8 L300.2,142.2 L301.2,140.8 L302.2,139.5 L303.2,138.3 L304.2,137.1 L305.2,136.1 L306.2,135.2 L307.2,134.4 L308.2,133.7 L309.2,133.2 L310.2,132.7 L311.2,132.4 L312.2,132.2 L313.2,132.2 L314.2,132.2 L315.2,132.5 L316.2,132.8 L317.2,133.3 L318.2,133.9 L319.2,134.7 L320.2,135.6 L321.2,136.7 L322.2,137.8 L323.2,139.2 L324.2,140.7 L325.2,142.3 L326.2,144.1 L327.2,146.0 L328.2,148.1 L329.2,150.3 L330.2,152.6 L331.2,155.1 L332.2,157.7 L333.2,160.4 L334.2,163.3 L335.2,166.3 L336.2,169.5 L337.2,172.7 L338.2,176.1 L339.2,179.6 L340.2,183.2 L341.2,187.0 L342.2,190.8 L343.2,194.8 L344.2,198.8 L345.2,202.9 L346.2,207.2 L347.2,211.5 L348.2,215.9 L349.2,220.3 L350.2,224.9 L351.2,229.5 L352.2,234.2 L353.2,238.9 L354.2,243.7 L355.2,248.6 L356.2,253.5 L357.2,258.4 L358.2,263.4 L359.2,268.4 L360.2,273.4 L361.2,278.4 L362.2,283.5 L363.2,288.6 L364.2,293.7 L365.2,298.8 L366.2,303.9 L367.2,308.9 L368.2,314.0 L369.2,319.1 L370.2,324.1 L371.2,329.2 L372.2,334.2 L373.2,339.2 L374.2,344.1 L375.2,349.1 L376.2,353.9 L377.2,358.8 L378.2,363.6 L379.2,368.4 L380.2,373.1 L381.2,377.8 L382.2,382.4 L383.2,387.0 L384.2,391.5 L385.2,396.0 L386.2,400.4 L387.2,404.7 L388.2,409.0 L389.2,413.3 L390.2,417.4 L391.2,421.6 L392.2,425.6 L393.2,429.6 L394.2,433.5 L395.2,437.4 L396.2,441.2 L397.2,444.9 L398.2,448.6 L399.2,452.2 L400.2,455.7 L401.2,459.2 L402.2,462.6 L403.2,466.0 L404.2,469.3 L405.2,472.5 L406.2,475.6 L407.2,478.7 L408.2,481.8 L409.2,484.7 L410.2,487.6 L411.2,490.5 L412.2,493.2 L413.2,495.9 L414.2,498.6 L415.2,501.2 L416.2,503.7 L417.2,506.2 L418.2,508.6 L419.2,510.9 L420.2,513.2 L421.2,515.5 L422.2,517.6 L423.2,519.7 L424.2,521.8 L425.2,523.8 L426.2,525.7 L427.2,527.5 L428.2,529.4 L429.2,531.1 L430.2,532.8 L431.2,534.4 L432.2,536.0 L433.2,537.4 L434.2,538.9 L435.2,540.2 L436.2,541.5 L437.2,542.8 L438.2,544.0 L439.2,545.1 L440.2,546.1 L441.2,547.1 L442.2,548.0 L443.2,548.9 L444.2,549.7 L445.2,550.4 L446.2,551.0 L447.2,551.6 L448.2,552.1 L449.2,552.6 L450.2,553.0 L451.2,553.3 L452.2,553.5 L453.2,553.7 L454.2,553.8 L455.2,553.8 L456.2,553.8 L457.2,553.7 L458.2,553.5 L459.2,553.3 L460.2,553.0 L461.2,552.6 L462.2,552.2 L463.2,551.7 L464.2,551.1 L465.2,550.5 L466.2,549.8 L467.2,549.1 L468.2,548.2 L469.2,547.4 L470.2,546.4 L471.2,545.4 L472.2,544.3 L473.2,543.2 L474.2,542.0 L475.2,540.7 L476.2,539.4 L477.2,538.0 L478.2,536.5 L479.2,535.0 L480.2,533.4 L481.2,531.7 L482.2,530.0 L483.2,528.2 L484.2,526.3 L485.2,524.3 L486.2,522.3 L487.2,520.2 L488.2,518.0 L489.2,515.7 L490.2,513.3 L491.2,510.8 L492.2,508.2 L493.2,505.6 L494.2,502.8 L495.2,499.9 L496.2,496.9 L497.2,493.8 L498.2,490.6 L499.2,487.2 L500.2,483.7 L501.2,480.1 L502.2,476.4 L503.2,472.6 L504.2,468.6 L505.2,464.5 L506.2,460.2 L507.2,455.9 L508.2,451.3 L509.2,446.7 L510.2,441.9 L511.2,437.0 L512.2,432.0 L513.2,426.8 L514.2,421.6 L515.2,416.2 L516.2,410.7 L517.2,405.1 L518.2,399.4 L519.2,393.6 L520.2,387.8 L521.2,381.8 L522.2,375.8 L523.2,369.8 L524.2,363.6 L525.2,357.5 L526.2,351.3 L527.2,345.1 L528.2,338.9 L529.2,332.7 L530.2,326.5 L531.2,320.3 L532.2,314.2 L533.2,308.1 L534.2,302.0 L535.2,296.0 L536.2,290.1 L537.2,284.3 L538.2,278.5 L539.2,272.9 L540.2,267.3 L541.2,261.9 L542.2,256.6 L543.2,251.4 L544.2,246.3 L545.2,241.4 L546.2,236.7 L547.2,232.1 L548.2,227.6 L549.2,223.3 L550.2,219.2 L551.2,215.2 L552.2,211.4 L553.2,207.7 L554.2,204.2 L555.2,200.9 L556.2,197.8 L557.2,194.9 L558.2,192.1 L559.2,189.5 L560.2,187.0 L561.2,184.7 L562.2,182.6 L563.2,180.7 L564.2,178.9 L565.2,177.3 L566.2,175.8 L567.2,174.5 L568.2,173.3 L569.2,172.3 L570.2,171.4 L571.2,170.7 L572.2,170.1 L573.2,169.7 L574.2,169.4 L575.2,169.2 L576.2,169.1 L577.2,169.2 L578.2,169.3 L579.2,169.6 L580.2,170.0 L581.2,170.5 L582.2,171.1 L583.2,171.8 L584.2,172.5 L585.2,173.4 L586.2,174.4 L587.2,175.4 L588.2,176.5 L589.2,177.7 L590.2,178.9 L591.2,180.2 L592.2,181.6 L593.2,183.0 L594.2,184.5 L595.2,186.0 L596.2,187.6 L597.2,189.2 L598.2,190.9 L599.2,192.6 L600.2,194.3 L601.2,196.1 L602.2,197.8 L603.2,199.7 L604.2,201.5 L605.2,203.3 L606.2,205.2 L607.2,207.1 L608.2,208.9 L609.2,210.8 L610.2,212.7 L611.2,214.6 L612.2,216.5 L613.2,218.4 L614.2,220.3 L615.2,222.2 L616.2,224.1 L617.2,225.9 L618.2,227.8 L619.2,229.6 L620.2,231.4 L621.2,233.2 L622.2,235.1 L623.2,236.8 L624.2,238.6 L625.2,240.3 L626.2,242.1 L627.2,243.8 L628.2,245.4 L629.2,247.1 L630.2,248.7 L631.2,250.3 L632.2,251.9 L633.2,253.4 L634.2,255.0 L635.2,256.5 L636.2,258.0 L637.2,259.4 L638.2,260.9 L639.2,262.3 L640.2,263.6 L641.2,265.0 L642.2,266.3 L643.2,267.6 L644.2,268.9 L645.2,270.1 L646.2,271.4 L647.2,272.6 L648.2,273.8 L649.2,274.9 L650.2,276.1 L651.2,277.1 L652.2,278.2 L653.2,279.3 L654.2,280.4 L655.2,281.4 L656.2,282.4 L657.2,283.4 L658.2,284.3 L659.2,285.2 L660.2,286.2 L661.2,287.1 L662.2,288.0 L663.2,288.8 L664.2,289.7 L665.2,290.5 L666.2,291.3 L667.2,292.1 L668.2,292.9 L669.2,293.7 L670.2,294.4 L671.2,295.2 L672.2,295.9 L673.2,296.6 L674.2,297.3 L675.2,298.0 L676.2,298.6 L677.2,299.3 L678.2,299.9 L679.2,300.6 L680.2,301.2 L681.2,301.8 L682.2,302.4 L683.2,303.0 L684.2,303.6 L685.2,304.1 L686.2,304.7 L687.2,305.2 L688.2,305.8 L689.2,306.3 L690.2,306.8 L691.2,307.3 L692.2,307.8 L693.2,308.3 L694.2,308.8 L695.2,309.2 L696.2,309.7 L697.2,310.1 L698.2,310.6 L699.2,311.0 L700.2,311.4 L701.2,311.9 L702.2,312.3 L703.2,312.7 L704.2,313.1 L705.2,313.4 L706.2,313.8 L707.0,314.1" stroke="#ff0000"/>
<path d="M177.2,301.2 L178.2,301.2 L179.2,301.2 L180.2,301.2 L181.2,301.2 L182.2,301.3 L183.2,301.3 L184.2,301.4 L185.2,301.4 L186.2,301.4 L187.2,301.5 L188.2,301.4 L189.2,301.4 L190.2,301.4 L191.2,301.3 L192.2,301.2 L193.2,301.1 L194.2,300.9 L195.2,300.6 L196.2,300.4 L197.2,300.0 L198.2,299.7 L199.2,299.2 L200.2,298.8 L201.2,298.2 L202.2,297.7 L203.2,297.0 L204.2,296.3 L205.2,295.6 L206.2,294.8 L207.2,293.9 L208.2,293.0 L209.2,292.0 L210.2,291.0 L211.2,289.9 L212.2,288.8 L213.2,287.7 L214.2,286.5 L215.2,285.2 L216.2,283.9 L217.2,282.6 L218.2,281.3 L219.2,279.9 L220.2,278.5 L221.2,277.1 L222.2,275.7 L223.2,274.2 L224.2,272.8 L225.2,271.3 L226.2,269.8 L227.2,268.2 L228.2,266.7 L229.2,265.2 L230.2,263.6 L231.2,262.1 L232.2,260.5 L233.2,258.9 L234.2,257.3 L235.2,255.7 L236.2,254.1 L237.2,252.4 L238.2,250.8 L239.2,249.1 L240.2,247.3 L241.2,245.6 L242.2,243.8 L243.2,242.0 L244.2,240.1 L245.2,238.2 L246.2,236.3 L247.2,234.3 L248.2,232.2 L249.2,230.1 L250.2,227.9 L251.2,225.7 L252.2,223.4 L253.2,221.0 L254.2,218.5 L255.2,216.0 L256.2,213.4 L257.2,210.8 L258.2,208.0 L259.2,205.2 L260.2,202.3 L261.2,199.4 L262.2,196.3 L263.2,193.2 L264.2,190.1 L265.2,186.8 L266.2,183.5 L267.2,180.2 L268.2,176.7 L269.2,173.3 L270.2,169.8 L271.2,166.2 L272.2,162.6 L273.2,159.0 L274.2,155.4 L275.2,151.7 L276.2,148.0 L277.2,144.3 L278.2,140.7 L279.2,137.0 L280.2,133.3 L281.2,129.7 L282.2,126.1 L283.2,122.5 L284.2,119.0 L285.2,115.5 L286.2,112.1 L287.2,108.7 L288.2,105.4 L289.2,102.2 L290.2,99.1 L291.2,96.0 L292.2,93.1 L293.2,90.2 L294.2,87.5 L295.2,84.8 L296.2,82.3 L297.2,80.0 L298.2,77.7 L299.2,75.6 L300.2,73.6 L301.2,71.8 L302.2,70.1 L303.2,68.5 L304.2,67.2 L305.2,65.9 L306.2,64.9 L307.2,64.0 L308.2,63.3 L309.2,62.7 L310.2,62.4 L311.2,62.2 L312.2,62.2 L313.2,62.3 L314.2,62.7 L315.2,63.2 L316.2,63.9 L317.2,64.8 L318.2,65.9 L319.2,67.2 L320.2,68.7 L321.2,70.3 L322.2,72.1 L323.2,74.1 L324.2,76.3 L325.2,78.7 L326.2,81.3 L327.2,84.0 L328.2,86.9 L329.2,90.0 L330.2,93.3 L331.2,96.7 L332.2,100.3 L333.2,104.1 L334.2,108.0 L335.2,112.1 L336.2,116.3 L337.2,120.7 L338.2,125.3 L339.2,130.0 L340.2,134.8 L341.2,139.7 L342.2,144.8 L343.2,150.0 L344.2,155.4 L345.2,160.8 L346.2,166.4 L347.2,172.1 L348.2,177.8 L349.2,183.7 L350.2,189.7 L351.2,195.7 L352.2,201.8 L353.2,208.0 L354.2,214.3 L355.2,220.7 L356.2,227.1 L357.2,233.5 L358.2,240.0 L359.2,246.6 L360.2,253.1 L361.2,259.7 L362.2,266.4 L363.2,273.0 L364.2,279.7 L365.2,286.4 L366.2,293.1 L367.2,299.8 L368.2,306.5 L369.2,313.1 L370.2,319.8 L371.2,326.4 L372.2,333.1 L373.2,339.6 L374.2,346.2 L375.2,352.7 L376.2,359.2 L377.2,365.6 L378.2,371.9 L379.2,378.2 L380.2,384.5 L381.2,390.7 L382.2,396.8 L383.2,402.8 L384.2,408.8 L385.2,414.7 L386.2,420.5 L387.2,426.2 L388.2,431.9 L389.2,437.4 L390.2,442.9 L391.2,448.2 L392.2,453.5 L393.2,458.7 L394.2,463.8 L395.2,468.7 L396.2,473.6 L397.2,478.4 L398.2,483.0 L399.2,487.6 L400.2,492.0 L401.2,496.4 L402.2,500.6 L403.2,504.7 L404.2,508.8 L405.2,512.7 L406.2,516.5 L407.2,520.2 L408.2,523.8 L409.2,527.3 L410.2,530.7 L411.2,534.0 L412.2,537.3 L413.2,540.4 L414.2,543.4 L415.2,546.3 L416.2,549.2 L417.2,551.9 L418.2,554.6 L419.2,557.2 L420.2,559.7 L421.2,562.1 L422.2,564.4 L423.2,566.7 L424.2,568.9 L425.2,571.0 L426.2,573.1 L427.2,575.1 L428.2,577.1 L429.2,578.9 L430.2,580.8 L431.2,582.5 L432.2,584.2 L433.2,585.9 L434.2,587.5 L435.2,589.0 L436.2,590.5 L437.2,591.9 L438.2,593.3 L439.2,594.6 L440.2,595.9 L441.2,597.1 L442.2,598.3 L443.2,599.4 L444.2,600.4 L445.2,601.4 L446.2,602.3 L447.2,603.1 L448.2,603.9 L449.2,604.6 L450.2,605.3 L451.2,605.8 L452.2,606.3 L453.2,606.7 L454.2,607.0 L455.2,607.3 L456.2,607.5 L457.2,607.5 L458.2,607.5 L459.2,607.4 L460.2,607.2 L461.2,606.9 L462.2,606.6 L463.2,606.1 L464.2,605.6 L465.2,604.9 L466.2,604.2 L467.2,603.4 L468.2,602.5 L469.2,601.5 L470.2,600.5 L471.2,599.4 L472.2,598.1 L473.2,596.9 L474.2,595.5 L475.2,594.1 L476.2,592.6 L477.2,591.0 L478.2,589.4 L479.2,587.7 L480.2,585.9 L481.2,584.0 L482.2,582.1 L483.2,580.2 L484.2,578.1 L485.2,576.0 L486.2,573.8 L487.2,571.5 L488.2,569.2 L489.2,566.8 L490.2,564.2 L491.2,561.6 L492.2,558.8 L493.2,556.0 L494.2,553.0 L495.2,549.9 L496.2,546.6 L497.2,543.3 L498.2,539.7 L499.2,536.0 L500.2,532.2 L501.2,528.1 L502.2,523.9 L503.2,519.5 L504.2,514.9 L505.2,510.1 L506.2,505.1 L507.2,499.9 L508.2,494.6 L509.2,488.9 L510.2,483.1 L511.2,477.1 L512.2,470.9 L513.2,464.5 L514.2,457.8 L515.2,451.0 L516.2,444.0 L517.2,436.9 L518.2,429.5 L519.2,422.0 L520.2,414.4 L521.2,406.6 L522.2,398.8 L523.2,390.8 L524.2,382.7 L525.2,374.5 L526.2,366.3 L527.2,358.1 L528.2,349.8 L529.2,341.5 L530.2,333.2 L531.2,324.9 L532.2,316.6 L533.2,308.4 L534.2,300.3 L535.2,292.3 L536.2,284.3 L537.2,276.5 L538.2,268.8 L539.2,261.2 L540.2,253.8 L541.2,246.5 L542.2,239.4 L543.2,232.5 L544.2,225.8 L545.2,219.2 L546.2,212.9 L547.2,206.8 L548.2,200.8 L549.2,195.1 L550.2,189.7 L551.2,184.4 L552.2,179.4 L553.2,174.6 L554.2,170.0 L555.2,165.7 L556.2,161.6 L557.2,157.7 L558.2,154.0 L559.2,150.6 L560.2,147.4 L561.2,144.4 L562.2,141.6 L563.2,139.1 L564.2,136.7 L565.2,134.6 L566.2,132.6 L567.2,130.9 L568.2,129.3 L569.2,128.0 L570.2,126.8 L571.2,125.8 L572.2,125.0 L573.2,124.3 L574.2,123.8 L575.2,123.5 L576.2,123.3 L577.2,123.3 L578.2,123.5 L579.2,123.7 L580.2,124.1 L581.2,124.6 L582.2,125.3 L583.2,126.1 L584.2,127.0 L585.2,128.0 L586.2,129.1 L587.2,130.3 L588.2,131.6 L589.2,133.0 L590.2,134.5 L591.2,136.1 L592.2,137.7 L593.2,139.4 L594.2,141.2 L595.2,143.1 L596.2,145.0 L597.2,147.0 L598.2,149.0 L599.2,151.1 L600.2,153.2 L601.2,155.3 L602.2,157.5 L603.2,159.8 L604.2,162.0 L605.2,164.3 L606.2,166.6 L607.2,168.9 L608.2,171.3 L609.2,173.6 L610.2,176.0 L611.2,178.3 L612.2,180.7 L613.2,183.1 L614.2,185.4 L615.2,187.8 L616.2,190.2 L617.2,192.5 L618.2,194.8 L619.2,197.2 L620.2,199.4 L621.2,201.7 L622.2,204.0 L623.2,206.2 L624.2,208.5 L625.2,210.7 L626.2,212.8 L627.2,215.0 L628.2,217.1 L629.2,219.2 L630.2,221.3 L631.2,223.3 L632.2,225.3 L633.2,227.2 L634.2,229.2 L635.2,231.1 L636.2,233.0 L637.2,234.8 L638.2,236.6 L639.2,238.4 L640.2,240.1 L641.2,241.8 L642.2,243.5 L643.2,245.1 L644.2,246.7 L645.2,248.3 L646.2,249.8 L647.2,251.3 L648.2,252.8 L649.2,254.3 L650.2,255.7 L651.2,257.1 L652.2,258.4 L653.2,259.8 L654.2,261.1 L655.2,262.3 L656.2,263.6 L657.2,264.8 L658.2,266.0 L659.2,267.1 L660.2,268.3 L661.2,269.4 L662.2,270.5 L663.2,271.6 L664.2,272.6 L665.2,273.7 L666.2,274.7 L667.2,275.7 L668.2,276.7 L669.2,277.6 L670.2,278.6 L671.2,279.5 L672.2,280.4 L673.2,281.3 L674.2,282.2 L675.2,283.1 L676.2,283.9 L677.2,284.8 L678.2,285.6 L679.2,286.4 L680.2,287.2 L681.2,288.0 L682.2,288.8 L683.2,289.6 L684.2,290.3 L685.2,291.1 L686.2,291.8 L687.2,292.6 L688.2,293.3 L689.2,294.0 L690.2,294.7 L691.2,295.4 L692.2,296.1 L693.2,296.8 L694.2,297.5 L695.2,298.2 L696.2,298.8 L697.2,299.5 L698.2,300.1 L699.2,300.8 L700.2,301.4 L701.2,302.1 L702.2,302.7 L703.2,303.3 L704.2,304.0 L705.2,304.6 L706.2,305.2 L707.0,305.7" stroke="#000000"/>
</g>
<line x1="103.90" y1="641.72" x2="108.50" y2="641.72" stroke="#000" stroke-width="4.4" stroke-linecap="butt"/>
<line x1="805.30" y1="641.72" x2="809.90" y2="641.72" stroke="#000" stroke-width="4.4" stroke-linecap="butt"/>
<line x1="103.90" y1="604.92" x2="111.10" y2="604.92" stroke="#000" stroke-width="4.4" stroke-linecap="butt"/>
<line x1="802.70" y1="604.92" x2="809.90" y2="604.92" stroke="#000" stroke-width="4.4" stroke-linecap="butt"/>
<line x1="103.90" y1="568.13" x2="108.50" y2="568.13" stroke="#000" stroke-width="4.4" stroke-linecap="butt"/>
<line x1="805.30" y1="568.13" x2="809.90" y2="568.13" stroke="#000" stroke-width="4.4" stroke-linecap="butt"/>
<line x1="103.90" y1="531.33" x2="111.10" y2="531.33" stroke="#000" stroke-width="4.4" stroke-linecap="butt"/>
<line x1="802.70" y1="531.33" x2="809.90" y2="531.33" stroke="#000" stroke-width="4.4" stroke-linecap="butt"/>
<line x1="103.90" y1="494.54" x2="108.50" y2="494.54" stroke="#000" stroke-width="4.4" stroke-linecap="butt"/>
<line x1="805.30" y1="494.54" x2="809.90" y2="494.54" stroke="#000" stroke-width="4.4" stroke-linecap="butt"/>
<line x1="103.90" y1="457.74" x2="111.10" y2="457.74" stroke="#000" stroke-width="4.4" stroke-linecap="butt"/>
<line x1="802.70" y1="457.74" x2="809.90" y2="457.74" stroke="#000" stroke-width="4.4" stroke-linecap="butt"/>
<line x1="103.90" y1="420.94" x2="108.50" y2="420.94" stroke="#000" stroke-width="4.4" stroke-linecap="butt"/>
<line x1="805.30" y1="420.94" x2="809.90" y2="420.94" stroke="#000" stroke-width="4.4" stroke-linecap="butt"/>
<line x1="103.90" y1="384.15" x2="111.10" y2="384.15" stroke="#000" stroke-width="4.4" stroke-linecap="butt"/>
<line x1="802.70" y1="384.15" x2="809.90" y2="384.15" stroke="#000" stroke-width="4.4" stroke-linecap="butt"/>
<line x1="103.90" y1="347.36" x2="108.50" y2="347.36" stroke="#000" stroke-width="4.4" stroke-linecap="butt"/>
<line x1="805.30" y1="347.36" x2="809.90" y2="347.36" stroke="#000" stroke-width="4.4" stroke-linecap="butt"/>
<line x1="103.90" y1="310.56" x2="111.10" y2="310.56" stroke="#000" stroke-width="4.4" stroke-linecap="butt"/>
<line x1="802.70" y1="310.56" x2="809.90" y2="310.56" stroke="#000" stroke-width="4.4" stroke-linecap="butt"/>
<line x1="103.90" y1="273.76" x2="108.50" y2="273.76" stroke="#000" stroke-width="4.4" stroke-linecap="butt"/>
<line x1="805.30" y1="273.76" x2="809.90" y2="273.76" stroke="#000" stroke-width="4.4" stroke-linecap="butt"/>
<line x1="103.90" y1="236.97" x2="111.10" y2="236.97" stroke="#000" stroke-width="4.4" stroke-linecap="butt"/>
<line x1="802.70" y1="236.97" x2="809.90" y2="236.97" stroke="#000" stroke-width="4.4" stroke-linecap="butt"/>
<line x1="103.90" y1="200.18" x2="108.50" y2="200.18" stroke="#000" stroke-width="4.4" stroke-linecap="butt"/>
<line x1="805.30" y1="200.18" x2="809.90" y2="200.18" stroke="#000" stroke-width="4.4" stroke-linecap="butt"/>
<line x1="103.90" y1="163.38" x2="111.10" y2="163.38" stroke="#000" stroke-width="4.4" stroke-linecap="butt"/>
<line x1="802.70" y1="163.38" x2="809.90" y2="163.38" stroke="#000" stroke-width="4.4" stroke-linecap="butt"/>
<line x1="103.90" y1="126.59" x2="108.50" y2="126.59" stroke="#000" stroke-width="4.4" stroke-linecap="butt"/>
<line x1="805.30" y1="126.59" x2="809.90" y2="126.59" stroke="#000" stroke-width="4.4" stroke-linecap="butt"/>
<line x1="103.90" y1="89.79" x2="111.10" y2="89.79" stroke="#000" stroke-width="4.4" stroke-linecap="butt"/>
<line x1="802.70" y1="89.79" x2="809.90" y2="89.79" stroke="#000" stroke-width="4.4" stroke-linecap="butt"/>
<line x1="103.90" y1="53.00" x2="108.50" y2="53.00" stroke="#000" stroke-width="4.4" stroke-linecap="butt"/>
<line x1="805.30" y1="53.00" x2="809.90" y2="53.00" stroke="#000" stroke-width="4.4" stroke-linecap="butt"/>
<line x1="103.90" y1="16.20" x2="111.10" y2="16.20" stroke="#000" stroke-width="4.4" stroke-linecap="butt"/>
<line x1="802.70" y1="16.20" x2="809.90" y2="16.20" stroke="#000" stroke-width="4.4" stroke-linecap="butt"/>
<line x1="103.90" y1="634.30" x2="103.90" y2="641.50" stroke="#000" stroke-width="3.8" stroke-linecap="butt"/>
<line x1="103.90" y1="16.00" x2="103.90" y2="23.20" stroke="#000" stroke-width="3.8" stroke-linecap="butt"/>
<line x1="192.15" y1="636.90" x2="192.15" y2="641.50" stroke="#000" stroke-width="3.8" stroke-linecap="butt"/>
<line x1="192.15" y1="16.00" x2="192.15" y2="20.60" stroke="#000" stroke-width="3.8" stroke-linecap="butt"/>
<line x1="280.40" y1="634.30" x2="280.40" y2="641.50" stroke="#000" stroke-width="3.8" stroke-linecap="butt"/>
<line x1="280.40" y1="16.00" x2="280.40" y2="23.20" stroke="#000" stroke-width="3.8" stroke-linecap="butt"/>
<line x1="368.65" y1="636.90" x2="368.65" y2="641.50" stroke="#000" stroke-width="3.8" stroke-linecap="butt"/>
<line x1="368.65" y1="16.00" x2="368.65" y2="20.60" stroke="#000" stroke-width="3.8" stroke-linecap="butt"/>
<line x1="456.90" y1="634.30" x2="456.90" y2="641.50" stroke="#000" stroke-width="3.8" stroke-linecap="butt"/>
<line x1="456.90" y1="16.00" x2="456.90" y2="23.20" stroke="#000" stroke-width="3.8" stroke-linecap="butt"/>
<line x1="545.15" y1="636.90" x2="545.15" y2="641.50" stroke="#000" stroke-width="3.8" stroke-linecap="butt"/>
<line x1="545.15" y1="16.00" x2="545.15" y2="20.60" stroke="#000" stroke-width="3.8" stroke-linecap="butt"/>
<line x1="633.40" y1="634.30" x2="633.40" y2="641.50" stroke="#000" stroke-width="3.8" stroke-linecap="butt"/>
<line x1="633.40" y1="16.00" x2="633.40" y2="23.20" stroke="#000" stroke-width="3.8" stroke-linecap="butt"/>
<line x1="721.65" y1="636.90" x2="721.65" y2="641.50" stroke="#000" stroke-width="3.8" stroke-linecap="butt"/>
<line x1="721.65" y1="16.00" x2="721.65" y2="20.60" stroke="#000" stroke-width="3.8" stroke-linecap="butt"/>
<line x1="809.90" y1="634.30" x2="809.90" y2="641.50" stroke="#000" stroke-width="3.8" stroke-linecap="butt"/>
<line x1="809.90" y1="16.00" x2="809.90" y2="23.20" stroke="#000" stroke-width="3.8" stroke-linecap="butt"/>
<rect x="103.9" y="16.0" width="706.00" height="625.50" fill="none" stroke="#000" stroke-width="4.4"/>
<text transform="translate(45.26,615.02) scale(0.8550,1)" font-size="34.50" stroke="#000" stroke-width="0.4" stroke-linejoin="round" fill="#000">-0.8</text>
<text transform="translate(45.26,541.43) scale(0.8550,1)" font-size="34.50" stroke="#000" stroke-width="0.4" stroke-linejoin="round" fill="#000">-0.6</text>
<text transform="translate(44.82,467.84) scale(0.8550,1)" font-size="34.50" stroke="#000" stroke-width="0.4" stroke-linejoin="round" fill="#000">-0.4</text>
<text transform="translate(45.48,394.25) scale(0.8550,1)" font-size="34.50" stroke="#000" stroke-width="0.4" stroke-linejoin="round" fill="#000">-0.2</text>
<text transform="translate(54.93,320.66) scale(0.8550,1)" font-size="34.50" stroke="#000" stroke-width="0.4" stroke-linejoin="round" fill="#000">0.0</text>
<text transform="translate(55.30,247.07) scale(0.8550,1)" font-size="34.50" stroke="#000" stroke-width="0.4" stroke-linejoin="round" fill="#000">0.2</text>
<text transform="translate(54.64,173.48) scale(0.8550,1)" font-size="34.50" stroke="#000" stroke-width="0.4" stroke-linejoin="round" fill="#000">0.4</text>
<text transform="translate(55.08,99.89) scale(0.8550,1)" font-size="34.50" stroke="#000" stroke-width="0.4" stroke-linejoin="round" fill="#000">0.6</text>
<text transform="translate(55.08,26.30) scale(0.8550,1)" font-size="34.50" stroke="#000" stroke-width="0.4" stroke-linejoin="round" fill="#000">0.8</text>
<text transform="translate(51.19,675.60) scale(0.8560,1)" font-size="34.50" stroke="#000" stroke-width="0.4" stroke-linejoin="round" fill="#000">1653.60</text>
<text transform="translate(227.72,675.60) scale(0.8560,1)" font-size="34.50" stroke="#000" stroke-width="0.4" stroke-linejoin="round" fill="#000">1653.65</text>
<text transform="translate(404.19,675.60) scale(0.8560,1)" font-size="34.50" stroke="#000" stroke-width="0.4" stroke-linejoin="round" fill="#000">1653.70</text>
<text transform="translate(580.72,675.60) scale(0.8560,1)" font-size="34.50" stroke="#000" stroke-width="0.4" stroke-linejoin="round" fill="#000">1653.75</text>
<text transform="translate(757.19,675.60) scale(0.8560,1)" font-size="34.50" stroke="#000" stroke-width="0.4" stroke-linejoin="round" fill="#000">1653.80</text>
<text transform="translate(313.01,725.70) scale(0.8918,1)" font-size="43.00" stroke="#000" stroke-width="0.4" stroke-linejoin="round" fill="#000">Wavelength (nm)</text>
<text transform="translate(33.00,459.40) rotate(-90) scale(0.8400,1)" font-size="42.60" x="-3.51 28.58 60.67 93.03 108.11 132.43 145.14 173.48 201.81 228.75 240.31 254.69 273.05 305.64" stroke="#000" stroke-width="0.4" stroke-linejoin="round" fill="#000">PAS signal (V)</text>
<text transform="translate(5.11,35.90) scale(0.9973,1)" font-size="43.70" font-weight="bold" stroke="#000" stroke-width="0.4" stroke-linejoin="round" fill="#000">A</text>
<line x1="524.40" y1="547.50" x2="578.00" y2="547.50" stroke="#ff7a00" stroke-width="4.8" stroke-linecap="round"/>
<text transform="translate(584.94,556.30) scale(0.9160,1)" font-size="26.20" stroke="#000" stroke-width="0.4" stroke-linejoin="round" fill="#000">5ppm</text>
<line x1="665.70" y1="547.50" x2="719.60" y2="547.50" stroke="#9a00c8" stroke-width="4.8" stroke-linecap="round"/>
<text transform="translate(725.70,556.30) scale(0.9160,1)" font-size="26.20" stroke="#000" stroke-width="0.4" stroke-linejoin="round" fill="#000">10ppm</text>
<line x1="524.40" y1="580.30" x2="578.00" y2="580.30" stroke="#66ff66" stroke-width="4.8" stroke-linecap="round"/>
<text transform="translate(584.70,589.10) scale(0.9160,1)" font-size="26.20" stroke="#000" stroke-width="0.4" stroke-linejoin="round" fill="#000">20ppm</text>
<line x1="665.70" y1="580.30" x2="719.60" y2="580.30" stroke="#0000ff" stroke-width="4.8" stroke-linecap="round"/>
<text transform="translate(726.60,589.10) scale(0.9160,1)" font-size="26.20" stroke="#000" stroke-width="0.4" stroke-linejoin="round" fill="#000">30ppm</text>
<line x1="524.40" y1="613.00" x2="578.00" y2="613.00" stroke="#ff0000" stroke-width="4.8" stroke-linecap="round"/>
<text transform="translate(585.36,621.80) scale(0.9160,1)" font-size="26.20" stroke="#000" stroke-width="0.4" stroke-linejoin="round" fill="#000">40ppm</text>
<line x1="665.70" y1="613.00" x2="719.60" y2="613.00" stroke="#000000" stroke-width="4.8" stroke-linecap="round"/>
<text transform="translate(726.54,621.80) scale(0.9160,1)" font-size="26.20" stroke="#000" stroke-width="0.4" stroke-linejoin="round" fill="#000">50ppm</text>
</g>
<g id="panelB">
<ellipse cx="1039.1" cy="582.4" rx="9.3" ry="10.5" fill="#800080"/>
<ellipse cx="1102.0" cy="530.5" rx="9.3" ry="10.5" fill="#800080"/>
<ellipse cx="1227.6" cy="397.4" rx="9.3" ry="10.5" fill="#800080"/>
<ellipse cx="1353.3" cy="302.9" rx="9.3" ry="10.5" fill="#800080"/>
<ellipse cx="1479.2" cy="197.2" rx="9.3" ry="10.5" fill="#800080"/>
<ellipse cx="1604.6" cy="65.1" rx="9.3" ry="10.5" fill="#800080"/>
<line x1="976.30" y1="631.20" x2="976.30" y2="643.50" stroke="#000" stroke-width="3.8" stroke-linecap="butt"/>
<line x1="1039.15" y1="637.50" x2="1039.15" y2="643.50" stroke="#000" stroke-width="3.8" stroke-linecap="butt"/>
<line x1="1102.00" y1="631.20" x2="1102.00" y2="643.50" stroke="#000" stroke-width="3.8" stroke-linecap="butt"/>
<line x1="1164.85" y1="637.50" x2="1164.85" y2="643.50" stroke="#000" stroke-width="3.8" stroke-linecap="butt"/>
<line x1="1227.70" y1="631.20" x2="1227.70" y2="643.50" stroke="#000" stroke-width="3.8" stroke-linecap="butt"/>
<line x1="1290.55" y1="637.50" x2="1290.55" y2="643.50" stroke="#000" stroke-width="3.8" stroke-linecap="butt"/>
<line x1="1353.40" y1="631.20" x2="1353.40" y2="643.50" stroke="#000" stroke-width="3.8" stroke-linecap="butt"/>
<line x1="1416.25" y1="637.50" x2="1416.25" y2="643.50" stroke="#000" stroke-width="3.8" stroke-linecap="butt"/>
<line x1="1479.10" y1="631.20" x2="1479.10" y2="643.50" stroke="#000" stroke-width="3.8" stroke-linecap="butt"/>
<line x1="1541.95" y1="637.50" x2="1541.95" y2="643.50" stroke="#000" stroke-width="3.8" stroke-linecap="butt"/>
<line x1="1604.80" y1="631.20" x2="1604.80" y2="643.50" stroke="#000" stroke-width="3.8" stroke-linecap="butt"/>
<line x1="1667.65" y1="637.50" x2="1667.65" y2="643.50" stroke="#000" stroke-width="3.8" stroke-linecap="butt"/>
<line x1="1730.50" y1="631.20" x2="1730.50" y2="643.50" stroke="#000" stroke-width="3.8" stroke-linecap="butt"/>
<line x1="976.30" y1="643.50" x2="987.30" y2="643.50" stroke="#000" stroke-width="4.8" stroke-linecap="butt"/>
<line x1="976.30" y1="565.60" x2="981.90" y2="565.60" stroke="#000" stroke-width="4.8" stroke-linecap="butt"/>
<line x1="976.30" y1="487.70" x2="987.30" y2="487.70" stroke="#000" stroke-width="4.8" stroke-linecap="butt"/>
<line x1="976.30" y1="409.80" x2="981.90" y2="409.80" stroke="#000" stroke-width="4.8" stroke-linecap="butt"/>
<line x1="976.30" y1="331.90" x2="987.30" y2="331.90" stroke="#000" stroke-width="4.8" stroke-linecap="butt"/>
<line x1="976.30" y1="254.00" x2="981.90" y2="254.00" stroke="#000" stroke-width="4.8" stroke-linecap="butt"/>
<line x1="976.30" y1="176.10" x2="987.30" y2="176.10" stroke="#000" stroke-width="4.8" stroke-linecap="butt"/>
<line x1="976.30" y1="98.20" x2="981.90" y2="98.20" stroke="#000" stroke-width="4.8" stroke-linecap="butt"/>
<line x1="976.30" y1="20.30" x2="987.30" y2="20.30" stroke="#000" stroke-width="4.8" stroke-linecap="butt"/>
<rect x="976.3" y="20.3" width="754.30" height="623.20" fill="none" stroke="#000" stroke-width="4.8"/>
<line x1="976.6" y1="638.0" x2="1654.9" y2="28.4" stroke="#cc0000" stroke-width="4.8" stroke-linecap="round" stroke-dasharray="17 23.8" stroke-dashoffset="2.6"/>
<text transform="translate(927.73,651.70) scale(0.8500,1)" font-size="31.40" x="-1.26 16.24 25.01" stroke="#000" stroke-width="0.4" stroke-linejoin="round" fill="#000">0.0</text>
<text transform="translate(927.47,495.90) scale(0.8500,1)" font-size="31.40" x="-1.26 16.24 25.01" stroke="#000" stroke-width="0.4" stroke-linejoin="round" fill="#000">0.4</text>
<text transform="translate(927.87,340.10) scale(0.8500,1)" font-size="31.40" x="-1.26 16.24 25.01" stroke="#000" stroke-width="0.4" stroke-linejoin="round" fill="#000">0.8</text>
<text transform="translate(929.00,184.30) scale(0.8500,1)" font-size="31.40" x="-2.35 15.15 23.91" stroke="#000" stroke-width="0.4" stroke-linejoin="round" fill="#000">1.2</text>
<text transform="translate(928.80,28.50) scale(0.8500,1)" font-size="31.40" x="-2.35 15.15 23.91" stroke="#000" stroke-width="0.4" stroke-linejoin="round" fill="#000">1.6</text>
<text transform="translate(970.43,682.30) scale(0.8500,1)" font-size="31.40" x="-1.26" stroke="#000" stroke-width="0.4" stroke-linejoin="round" fill="#000">0</text>
<text transform="translate(1089.14,682.30) scale(0.8500,1)" font-size="31.40" x="-2.35 15.18" stroke="#000" stroke-width="0.4" stroke-linejoin="round" fill="#000">10</text>
<text transform="translate(1214.51,682.30) scale(0.8500,1)" font-size="31.40" x="-1.57 15.96" stroke="#000" stroke-width="0.4" stroke-linejoin="round" fill="#000">20</text>
<text transform="translate(1340.04,682.30) scale(0.8500,1)" font-size="31.40" x="-1.18 16.35" stroke="#000" stroke-width="0.4" stroke-linejoin="round" fill="#000">30</text>
<text transform="translate(1465.54,682.30) scale(0.8500,1)" font-size="31.40" x="-0.71 16.82" stroke="#000" stroke-width="0.4" stroke-linejoin="round" fill="#000">40</text>
<text transform="translate(1591.48,682.30) scale(0.8500,1)" font-size="31.40" x="-1.26 16.27" stroke="#000" stroke-width="0.4" stroke-linejoin="round" fill="#000">50</text>
<text transform="translate(1717.31,682.30) scale(0.8500,1)" font-size="31.40" x="-1.57 15.96" stroke="#000" stroke-width="0.4" stroke-linejoin="round" fill="#000">60</text>
<text transform="translate(1193.43,725.70) scale(0.9057,1)" font-size="39.00" stroke="#000" stroke-width="0.4" stroke-linejoin="round" fill="#000">Concentration (ppm)</text>
<text transform="translate(913.10,530.50) rotate(-90) scale(0.8300,1)" font-size="39.50" x="-3.26 28.14 54.70 81.03 104.22 119.89 134.31 159.95 176.78 203.34 229.90 256.23 279.19 293.38 317.49 342.67 354.66 381.22 406.63 420.13 437.41 467.89" stroke="#000" stroke-width="0.4" stroke-linejoin="round" fill="#000">Peak-to-peak value (V)</text>
<text transform="translate(863.38,34.90) scale(0.9511,1)" font-size="42.40" font-weight="bold" stroke="#000" stroke-width="0.4" stroke-linejoin="round" fill="#000">B</text>
<ellipse cx="1036.3" cy="156.4" rx="9.4" ry="10.4" fill="#800080"/>
<line x1="1003.60" y1="199.30" x2="1019.70" y2="199.30" stroke="#cc0000" stroke-width="4.8" stroke-linecap="round"/>
<line x1="1042.70" y1="199.30" x2="1058.80" y2="199.30" stroke="#cc0000" stroke-width="4.8" stroke-linecap="round"/>
<text transform="translate(1079.60,167.80) scale(0.8700,1)" font-size="30.00" x="-2.48 25.14 42.08 58.02 73.07 91.58 102.68 120.20 137.41 146.27 163.69 181.82 191.40" stroke="#000" stroke-width="0.4" stroke-linejoin="round" fill="#000">Measured data</text>
<text transform="translate(1080.20,210.30) scale(0.9100,1)" font-size="30.80" x="-2.54 13.99 22.07 39.99 57.10 75.03 85.95 95.25 105.38 114.32" stroke="#000" stroke-width="0.4" stroke-linejoin="round" fill="#000">Linear fit</text>
<text transform="translate(1407.40,394.80) scale(0.8282,1)" font-size="32.10" x="-0.08 15.56 33.97 52.01 61.11 79.23 97.34 115.04 130.34 148.74 166.78 175.89 194.00 212.12" stroke="#000" stroke-width="0.4" stroke-linejoin="round" fill="#000">y=0.029x+0.012</text>
<text transform="translate(1408.80,439.10) scale(0.8000,1)" font-size="29.60" x="-2.44 18.46 25.48 45.47 65.05 83.76 102.48 114.70 132.60 151.73 170.00 180.03 198.91 217.80" stroke="#000" stroke-width="0.4" stroke-linejoin="round" fill="#000">R Square=0.997</text>
</g>
</svg></body></html>
